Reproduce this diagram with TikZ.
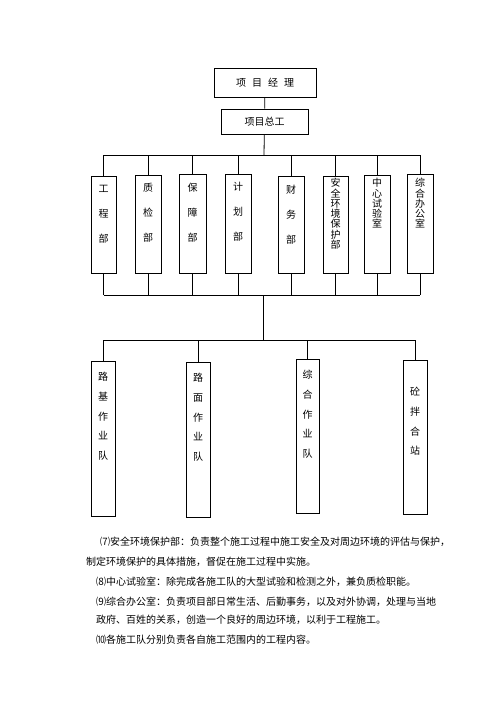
\documentclass[tikz,border=0pt]{standalone}
\usepackage{fontspec}
\newfontfamily\cjk{Noto Sans CJK SC}
\usetikzlibrary{positioning}

\begin{document}
\begin{tikzpicture}[x=1pt,y=-1pt,
    bx/.style={draw,line width=0.8pt,inner sep=0pt,font=\cjk\fontsize{10}{12}\selectfont},
    vt/.style={align=center,inner sep=0pt,font=\cjk\fontsize{10}{#1}\selectfont},
    para/.style={anchor=west,inner sep=0pt,font=\cjk\fontsize{10}{12}\selectfont}]
    \useasboundingbox (0,0) rectangle (500,707);

    % 上部
    \node[bx,minimum width=102,minimum height=29] (jl) at (265,82.5) {项\hspace{6pt}目\hspace{6pt}经\hspace{6pt}理};
    \node[bx,minimum width=87,minimum height=25] (zg) at (264.5,121.5) {项目总工};

    % 部门
    \node[bx,minimum width=25,minimum height=97] (gc) at (103.5,224.5) {};
    \node[bx,minimum width=26,minimum height=98] (zj) at (148,224) {};
    \node[bx,minimum width=27,minimum height=99] (bz) at (192.5,223.5) {};
    \node[bx,minimum width=26,minimum height=99] (jh) at (238,223.5) {};
    \node[bx,minimum width=26,minimum height=97] (cw) at (291,224.5) {};
    \node[bx,minimum width=25,minimum height=97] (aq) at (335.5,224.5) {};
    \node[bx,minimum width=26,minimum height=98] (sy) at (377,224) {};
    \node[bx,minimum width=26,minimum height=99] (bg) at (420,223.5) {};

    \node[vt=25,below=9.5pt of gc.north] (gc-t) {工\\程\\部};
    \node[vt=25,below=8.5pt of zj.north] (zj-t) {质\\检\\部};
    \node[vt=25,below=9.5pt of bz.north] (bz-t) {保\\障\\部};
    \node[vt=25,below=8.5pt of jh.north] (jh-t) {计\\划\\部};
    \node[vt=25,below=9.5pt of cw.north] (cw-t) {财\\务\\部};
    \node[vt=10.3,below=2.5pt of aq.north] (aq-t) {安\\全\\环\\境\\保\\护\\部};
    \node[vt=10.3,below=3.5pt of sy.north] (sy-t) {中\\心\\试\\验\\室};
    \node[vt=10.3,below=4.5pt of bg.north] (bg-t) {综\\合\\办\\公\\室};

    % 作业队
    \node[bx,minimum width=24,minimum height=155] (lj) at (103,438.5) {};
    \node[bx,minimum width=24,minimum height=155] (lm) at (198,439.5) {};
    \node[bx,minimum width=23,minimum height=154] (zh) at (307.5,436) {};
    \node[bx,minimum width=24,minimum height=154] (tb) at (415,437) {};

    \node[vt=19.7,below=11.5pt of lj.north] (lj-t) {路\\基\\作\\业\\队};
    \node[vt=19.7,below=11.5pt of lm.north] (lm-t) {路\\面\\作\\业\\队};
    \node[vt=19.7,below=11.5pt of zh.north] (zh-t) {综\\合\\作\\业\\队};
    \node[vt=19.7,below=27.5pt of tb.north] (tb-t) {砼\\拌\\合\\站};

    % 连线
    \coordinate (t0) at (264,155);
    \coordinate (u0) at (263,295);
    \coordinate (v0) at (263,340);
    \draw[line width=0.8pt] (jl) -- (zg);
    \draw[line width=0.8pt] (zg) -- (t0);
    \foreach \n in {gc,zj,bz,jh,cw,aq,sy,bg}{
        \draw[line width=0.8pt] (\n.north) -- (\n.north |- t0);
        \draw[line width=0.8pt] (\n.south) -- (\n.south |- u0);
    }
    \draw[line width=0.8pt] (gc.north |- t0) -- (bg.north |- t0);
    \draw[line width=0.8pt] (gc.south |- u0) -- (bg.south |- u0);
    \draw[line width=0.8pt] (u0) -- (v0);
    \foreach \n in {lj,lm,zh,tb}
        \draw[line width=0.8pt] (\n.north) -- (\n.north |- v0);
    \draw[line width=0.8pt] (lj.north |- v0) -- (tb.north |- v0);

    % 说明
    \node[para] (p7) at (100,542) {⑺安全环境保护部：负责整个施工过程中施工安全及对周边环境的评估与保护，};
    \node[para] (p7b) at (86,562) {制定环境保护的具体措施，督促在施工过程中实施。};
    \node[para] (p8) at (96,582) {⑻中心试验室：除完成各施工队的大型试验和检测之外，兼负质检职能。};
    \node[para] (p9) at (96,602) {⑼综合办公室：负责项目部日常生活、后勤事务，以及对外协调，处理与当地};
    \node[para] (p9b) at (96,620) {政府、百姓的关系，创造一个良好的周边环境，以利于工程施工。};
    \node[para] (p10) at (96,640) {⑽各施工队分别负责各自施工范围内的工程内容。};
\end{tikzpicture}
\end{document}
